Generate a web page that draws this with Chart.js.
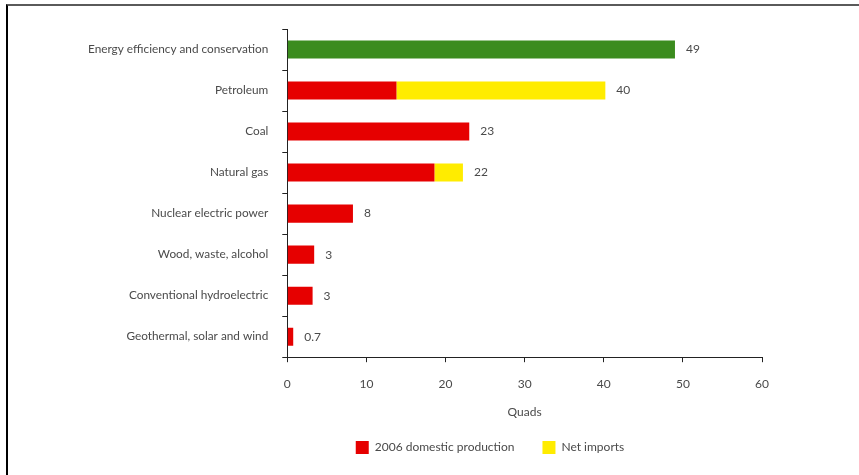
<!DOCTYPE html>
<html>
<head>
<meta charset="utf-8">
<script src="https://cdn.jsdelivr.net/npm/chart.js@4.4.1/dist/chart.umd.min.js"></script>
<style>
    body { margin: 0; background: #fff; }
    #wrap { position: relative; width: 859px; height: 475px; }
    #frame {
        position: absolute; left: 6px; top: 4px; right: 0; bottom: 0;
        border-top: 2px solid #5a5a5a; border-left: 2px solid #000;
        pointer-events: none;
    }
</style>
</head>
<body>
<div id="wrap">
    <canvas id="myChart" width="859" height="475"></canvas>
    <div id="frame"></div>
</div>
<script>
const categories = [
    'Energy efficiency and conservation',
    'Petroleum',
    'Coal',
    'Natural gas',
    'Nuclear electric power',
    'Wood, waste, alcohol',
    'Conventional hydroelectric',
    'Geothermal, solar and wind'
];
const efficiency = [49, 0, 0, 0, 0, 0, 0, 0];
const domesticProduction = [0, 13.8, 23, 18.6, 8.3, 3.4, 3.2, 0.75];
const netImports = [0, 26.4, 0, 3.6, 0, 0, 0, 0];
const valueLabels = ['49', '40', '23', '22', '8', '3', '3', '0.7'];
const xTicks = [0, 10, 20, 30, 40, 50, 60];

const textColor = '#4a4a4a';
const fontFamily = 'Lato, "Open Sans", sans-serif';
Chart.defaults.font.family = fontFamily;
Chart.defaults.font.size = 12;
Chart.defaults.color = textColor;

// writes the total at the end of each bar
const valueLabelPlugin = {
    id: 'valueLabels',
    afterDatasetsDraw(chart) {
        const ctx = chart.ctx;
        ctx.save();
        ctx.font = '12px ' + fontFamily;
        ctx.fillStyle = textColor;
        ctx.textAlign = 'left';
        ctx.textBaseline = 'middle';
        categories.forEach((cat, i) => {
            let end = chart.scales.x.getPixelForValue(0);
            let y = 0;
            chart.data.datasets.forEach((ds, d) => {
                const bar = chart.getDatasetMeta(d).data[i];
                if (ds.data[i] > 0 && bar.x > end) end = bar.x;
                y = bar.y;
            });
            ctx.fillText(valueLabels[i], end + 11, y);
        });
        ctx.restore();
    }
};

// the legend in the original sits a bit left of the plot centre
const legendShiftPlugin = {
    id: 'legendShift',
    afterLayout(chart) {
        const legend = chart.legend;
        const shift = 490 - (legend.left + legend.right) / 2;
        legend.left += shift;
        legend.right += shift;
    }
};

const ctx = document.getElementById('myChart').getContext('2d');
new Chart(ctx, {
    type: 'bar',
    data: {
        labels: categories,
        datasets: [
            {
                label: '2006 domestic production',
                data: domesticProduction,
                backgroundColor: '#e60000'
            },
            {
                label: 'Net imports',
                data: netImports,
                backgroundColor: '#ffec00'
            },
            {
                label: 'Energy efficiency and conservation',
                data: efficiency,
                backgroundColor: '#3b8c1e'
            }
        ]
    },
    options: {
        indexAxis: 'y',
        responsive: false,
        animation: false,
        barPercentage: 0.44,
        categoryPercentage: 1,
        layout: {
            padding: { left: 74, right: 97, top: 29, bottom: 11 }
        },
        scales: {
            x: {
                stacked: true,
                min: 0,
                max: 60,
                afterBuildTicks(axis) {
                    axis.ticks = xTicks.map(v => ({ value: v }));
                },
                ticks: { padding: 15, color: textColor, font: { size: 12 } },
                grid: { drawOnChartArea: false, tickLength: 5, color: '#222' },
                border: { color: '#222', width: 1 },
                title: {
                    display: true,
                    text: 'Quads',
                    color: textColor,
                    font: { size: 12 },
                    padding: { top: -2, bottom: -6 }
                }
            },
            y: {
                stacked: true,
                ticks: { padding: 14, color: textColor, font: { size: 11.8 } },
                grid: { drawOnChartArea: false, tickLength: 5, color: '#222' },
                border: { color: '#222', width: 1 }
            }
        },
        plugins: {
            legend: {
                position: 'bottom',
                labels: {
                    boxWidth: 13,
                    boxHeight: 13,
                    padding: 28,
                    color: textColor,
                    font: { size: 12 },
                    filter: item => item.datasetIndex < 2
                }
            },
            tooltip: { enabled: false }
        }
    },
    plugins: [valueLabelPlugin, legendShiftPlugin]
});
</script>
</body>
</html>
